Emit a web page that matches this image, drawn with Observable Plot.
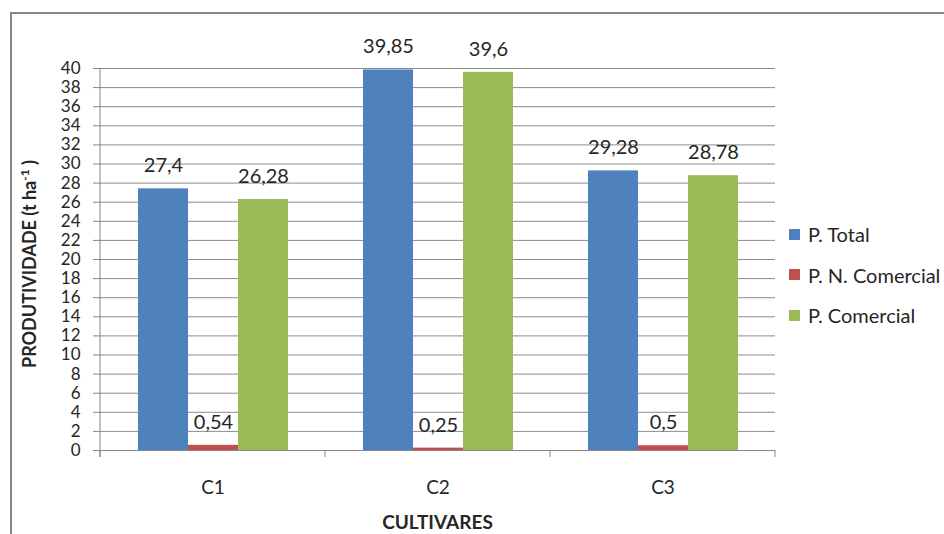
<!DOCTYPE html>
<html><head><meta charset="utf-8">
<script src="https://cdn.jsdelivr.net/npm/d3@7"></script>
<script src="https://cdn.jsdelivr.net/npm/@observablehq/plot@0.6"></script>
<style>
html,body{margin:0;padding:0;background:#fff;overflow:hidden;}
#wrap{position:relative;width:944px;height:534px;overflow:hidden;font-family:Lato,"Liberation Sans",sans-serif;}
#frame{position:absolute;left:10px;top:12px;width:1000px;height:600px;border:2px solid #868686;box-sizing:border-box;}
#chart{position:absolute;left:0;top:0;}
#legend{position:absolute;left:789px;top:224px;font-size:20px;color:#262626;}
#legend .item{display:flex;align-items:center;height:20px;margin-bottom:20.5px;white-space:nowrap;}
#legend .sw{width:11px;height:11px;margin-right:8px;}
</style></head>
<body><div id="wrap"><div id="frame"></div><div id="chart"></div><div id="legend"></div></div>
<script>
const categories = ["C1", "C2", "C3"];
const series = ["P. Total", "P. N. Comercial", "P. Comercial"];
const colors = ["#4F81BD", "#C0504D", "#9BBB59"];
const pTotal = [27.4, 39.85, 29.28];
const pNComercial = [0.54, 0.25, 0.5];
const pComercial = [26.28, 39.6, 28.78];
const yTicks = [0,2,4,6,8,10,12,14,16,18,20,22,24,26,28,30,32,34,36,38,40];
const yLabel = "PRODUTIVIDADE (t ha";
const xLabel = "CULTIVARES";

const values = [pTotal, pNComercial, pComercial];
const data = [];
categories.forEach((c, i) => series.forEach((s, j) => data.push({cat: c, series: s, value: values[j][i]})));
const fmt = v => String(v).replace(".", ",");
const FONT = "Lato, 'Liberation Sans', sans-serif";

const chart = Plot.plot({
  width: 944, height: 534,
  marginLeft: 100, marginRight: 169, marginTop: 68, marginBottom: 84,
  style: {fontFamily: FONT, fontSize: "17px", color: "#262626", background: "transparent"},
  fx: {domain: categories, padding: 0, label: null, tickSize: 0, tickPadding: 30},
  x: {domain: series, paddingInner: 0, paddingOuter: 0.75, axis: null},
  y: {domain: [0, 40], ticks: yTicks, tickSize: 7, tickPadding: 13, label: null, tickFormat: d => d},
  color: {domain: series, range: colors},
  marks: [
    Plot.ruleY(yTicks, {stroke: "#8c8c8c", strokeWidth: 1}),
    Plot.barY(data, {fx: "cat", x: "series", y: "value", fill: "series"}),
    Plot.ruleY([0], {stroke: "#868686", strokeWidth: 1}),
    Plot.text(data, {fx: "cat", x: "series", y: "value", text: d => fmt(d.value), dy: -23, fontSize: 20, fill: "#262626"})
  ]
});
document.getElementById("chart").appendChild(chart);

const svg = d3.select(chart);
svg.selectAll("g[aria-label='fx-axis tick label'] text, g[aria-label='fx-axis'] text").attr("font-size", 19);
svg.selectAll("[aria-label='y-axis tick'] path, g[aria-label='y-axis'] path").attr("stroke", "#868686");
const fx = chart.scale("fx"), y = chart.scale("y");
const y0 = y.apply(0), yTop = y.apply(40);
const x0 = fx.apply(categories[0]);
const edges = categories.map(c => fx.apply(c)).concat([fx.apply(categories[categories.length - 1]) + fx.bandwidth]);
svg.append("line").attr("x1", x0).attr("x2", x0).attr("y1", yTop).attr("y2", y0 + 7).attr("stroke", "#868686");
edges.forEach(e => svg.append("line").attr("x1", e).attr("x2", e).attr("y1", y0).attr("y2", y0 + 7).attr("stroke", "#868686"));
const yl = svg.append("text").attr("transform", `translate(36,264) rotate(-90)`)
  .attr("text-anchor", "middle").attr("font-weight", "bold").attr("font-size", 18).attr("fill", "#262626")
  .attr("font-family", FONT);
yl.append("tspan").text(yLabel);
yl.append("tspan").attr("baseline-shift", "super").attr("font-size", 12).text("-1");
yl.append("tspan").text(" )");
svg.append("text").attr("x", (edges[0] + edges[edges.length - 1]) / 2).attr("y", 529)
  .attr("text-anchor", "middle").attr("font-weight", "bold").attr("font-size", 19).attr("fill", "#262626")
  .attr("font-family", FONT).text(xLabel);

const leg = d3.select("#legend");
series.forEach((s, i) => {
  const it = leg.append("div").attr("class", "item");
  it.append("div").attr("class", "sw").style("background", colors[i]);
  it.append("span").text(s);
});
</script></body></html>
